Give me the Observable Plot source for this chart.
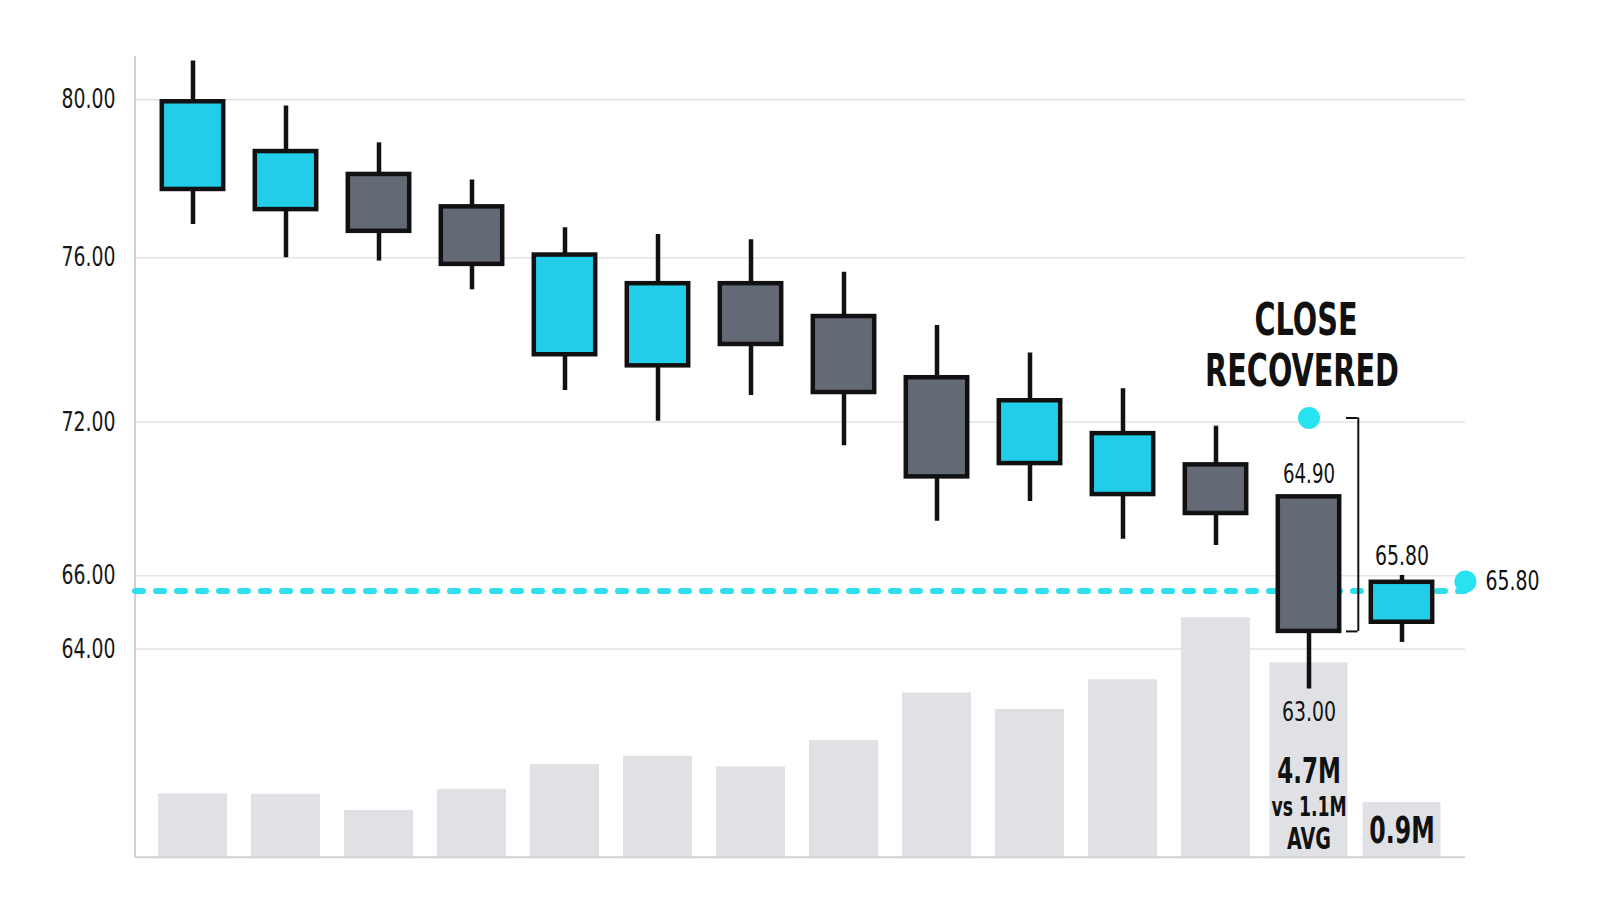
<!DOCTYPE html>
<html>
<head>
<meta charset="utf-8">
<script src="https://cdn.jsdelivr.net/npm/d3@7"></script>
<script src="https://cdn.jsdelivr.net/npm/@observablehq/plot@0.6"></script>
<style>
  html, body { margin: 0; padding: 0; background: #ffffff; }
  #chart { position: relative; width: 1600px; height: 914px; overflow: hidden; background: #ffffff; }
  #chart svg { position: absolute; left: 0; top: 0; }
</style>
</head>
<body>
<div id="chart"></div>
<script>
// ---------- data ----------
const days   = ["1", "2", "3", "4", "5", "6", "7", "8", "9", "10", "11", "12", "13", "14"];
const open   = [77.73, 77.22, 78.11, 77.29, 73.64, 73.37, 75.37, 74.57, 73.08, 70.38, 69.17, 70.33, 69.08, 64.73];
const close  = [79.95, 78.69, 76.67, 75.84, 76.07, 75.37, 73.89, 72.72, 69.86, 72.52, 71.55, 68.43, 64.48, 65.82];
const high   = [80.98, 79.84, 78.91, 77.97, 76.76, 76.59, 76.46, 75.65, 74.35, 73.68, 72.81, 71.84, 69.08, 66.01];
const low    = [76.84, 76.00, 75.92, 75.22, 72.77, 72.02, 72.65, 71.08, 68.13, 68.90, 67.42, 67.18, 62.91, 64.18];
const volume = [1.53, 1.52, 1.13, 1.64, 2.24, 2.44, 2.18, 2.82, 3.97, 3.57, 4.29, 5.79, 4.70, 1.32]; // millions
const yTicks = [64, 66, 72, 76, 80];
const focusDays = ["13", "14"];
const spikeDay = "13";
const lastDay = "14";
const recoveredLevel = 72.1;
const supportLevel = 65.58;
const lastMarker = 65.84;
const spikeTopText = "64.90";
const spikeLowText = "63.00";
const lastCloseText = "65.80";
const markerText = "65.80";
const headline = ["CLOSE", "RECOVERED"];
const spikeVolText = ["4.7M", "vs 1.1M", "AVG"];
const lastVolText = "0.9M";

// ---------- styling ----------
const W = 1600, H = 914;
const FONT = "'Liberation Sans Narrow', 'DejaVu Sans Condensed', Roboto, 'Liberation Sans', sans-serif";
const CYAN = "#22cdea", GRAY = "#646a75", INK = "#111111", DOT = "#27e2f0", DASH = "#2fdfee", VOL = "#e0e1e4";
const frame = {width: W, height: H, marginLeft: 135, marginRight: 135, marginTop: 56, marginBottom: 57};
const xBand = {type: "band", domain: days, range: [128.4, 1464.7], padding: 0.26, axis: null};
const yPrice = {type: "linear", domain: [64, 66, 72, 76, 80], range: [648.5, 575.2, 421.6, 257.3, 99.3], axis: null};
const yVolume = {type: "linear", domain: [0, 6], range: [856.7, 608.5], axis: null};
const baseStyle = {background: "transparent", fontFamily: FONT, overflow: "visible"};

const candles = days.map((d, i) => ({day: d, open: open[i], close: close[i], high: high[i], low: low[i], up: close[i] > open[i]}));
const volRows = days.map((d, i) => ({day: d, vol: volume[i], focus: focusDays.includes(d)}));
const spike = candles.find(c => c.day === spikeDay);
const last = candles.find(c => c.day === lastDay);

// ---------- layer A: grid, y axis, left axis line ----------
const layerA = Plot.plot({
  ...frame,
  y: yPrice,
  style: baseStyle,
  marks: [
    Plot.gridY({ticks: yTicks, stroke: "#e3e3e3", strokeOpacity: 1, strokeWidth: 1.5}),
    Plot.axisY({ticks: yTicks, tickSize: 0, tickPadding: 20, tickFormat: d => d.toFixed(2), fontSize: 27, color: "#161616"}),
    (index, scales, values, dims) =>
      d3.create("svg:line")
        .attr("x1", dims.marginLeft).attr("x2", dims.marginLeft)
        .attr("y1", dims.marginTop).attr("y2", dims.height - dims.marginBottom)
        .attr("stroke", "#d0d0d0").attr("stroke-width", 2).node()
  ]
});

// ---------- layer B: volume ----------
const layerB = Plot.plot({
  ...frame,
  x: xBand,
  y: yVolume,
  style: baseStyle,
  marks: [
    Plot.barY(volRows.filter(r => !r.focus), {x: "day", y: "vol", fill: VOL}),
    Plot.barY(volRows.filter(r => r.focus), {x: "day", y: "vol", fill: VOL, insetLeft: -4.5, insetRight: -4.5}),
    Plot.ruleY([0], {stroke: "#d2d2d2", strokeWidth: 2}),
    Plot.text([spikeDay], {x: d => d, y: () => 0, text: () => spikeVolText[0], dy: -74, lineAnchor: "bottom", fontSize: 36, fontWeight: 700, fill: INK}),
    Plot.text([spikeDay], {x: d => d, y: () => 0, text: () => spikeVolText[1], dy: -41.7, lineAnchor: "bottom", fontSize: 27, fontWeight: 700, fill: INK}),
    Plot.text([spikeDay], {x: d => d, y: () => 0, text: () => spikeVolText[2], dy: -8.7, lineAnchor: "bottom", fontSize: 30, fontWeight: 700, fill: INK}),
    Plot.text([lastDay], {x: d => d, y: () => 0, text: () => lastVolText, dy: -14.4, lineAnchor: "bottom", fontSize: 37, fontWeight: 700, fill: INK})
  ]
});

// ---------- layer C: candles and annotations ----------
const layerC = Plot.plot({
  ...frame,
  x: xBand,
  y: yPrice,
  style: baseStyle,
  marks: [
    Plot.ruleY([supportLevel], {stroke: DASH, strokeWidth: 6, strokeDasharray: "8,13", strokeLinecap: "round"}),
    Plot.ruleX(candles, {x: "day", y1: "low", y2: "high", stroke: INK, strokeWidth: 4.5}),
    Plot.barY(candles.filter(c => c.up), {x: "day", y1: "open", y2: "close", fill: CYAN, stroke: INK, strokeWidth: 4.5, insetLeft: 3.8, insetRight: 3.8}),
    Plot.barY(candles.filter(c => !c.up), {x: "day", y1: "open", y2: "close", fill: GRAY, stroke: INK, strokeWidth: 4.5, insetLeft: 3.8, insetRight: 3.8}),
    // bracket from recovered level to spike close
    Plot.ruleX([spikeDay], {x: d => d, y1: () => recoveredLevel, y2: () => spike.close, dx: 49.3, stroke: INK, strokeWidth: 2}),
    Plot.tickY([recoveredLevel, spike.close], {x: () => spikeDay, y: d => d, insetLeft: 72, insetRight: -14.6, stroke: INK, strokeWidth: 2}),
    // markers
    Plot.dot([spikeDay], {x: d => d, y: () => recoveredLevel, r: 11, fill: DOT}),
    Plot.dot([lastMarker], {y: d => d, frameAnchor: "right", r: 11, fill: DOT}),
    // labels
    Plot.text([lastMarker], {y: d => d, frameAnchor: "right", text: () => markerText, dx: 20, textAnchor: "start", lineAnchor: "middle", fontSize: 27, fill: INK}),
    Plot.text([spike], {x: "day", y: "open", text: () => spikeTopText, dy: -14, lineAnchor: "bottom", fontSize: 26, fill: INK}),
    Plot.text([spike], {x: "day", y: "low", text: () => spikeLowText, dy: 13, lineAnchor: "top", fontSize: 27, fill: INK}),
    Plot.text([last], {x: "day", y: "high", text: () => lastCloseText, dy: -10, lineAnchor: "bottom", fontSize: 27, fill: INK}),
    Plot.text([spikeDay], {x: d => d, y: () => recoveredLevel, text: () => headline[0], dx: -3, dy: -83.3, lineAnchor: "bottom", fontSize: 45, fontWeight: 700, fill: INK}),
    Plot.text([spikeDay], {x: d => d, y: () => recoveredLevel, text: () => headline[1], dx: -7, dy: -31.7, lineAnchor: "bottom", fontSize: 45, fontWeight: 700, fill: INK})
  ]
});

const chart = document.getElementById("chart");
chart.append(layerA, layerB, layerC);

// ---------- condense text horizontally to the reference's narrow face ----------
function measure(str, size, weight) {
  const t = d3.select(layerC).append("text")
    .attr("font-family", FONT).attr("font-size", size).attr("font-weight", weight)
    .attr("x", -1000).attr("y", -1000).text(str);
  const w = t.node().getComputedTextLength();
  t.remove();
  return w;
}
const kReg = Math.min(1, 54 / measure("80.00", 27, 400));
const kBold = Math.min(1, 194 / measure("RECOVERED", 45, 700));
for (const svg of [layerA, layerB, layerC]) {
  svg.querySelectorAll("text").forEach(t => {
    const bold = parseInt(getComputedStyle(t).fontWeight, 10) >= 600;
    const w = t.getComputedTextLength();
    if (!w) return;
    t.setAttribute("textLength", (w * (bold ? kBold : kReg)).toFixed(1));
    t.setAttribute("lengthAdjust", "spacingAndGlyphs");
  });
}
</script>
</body>
</html>
